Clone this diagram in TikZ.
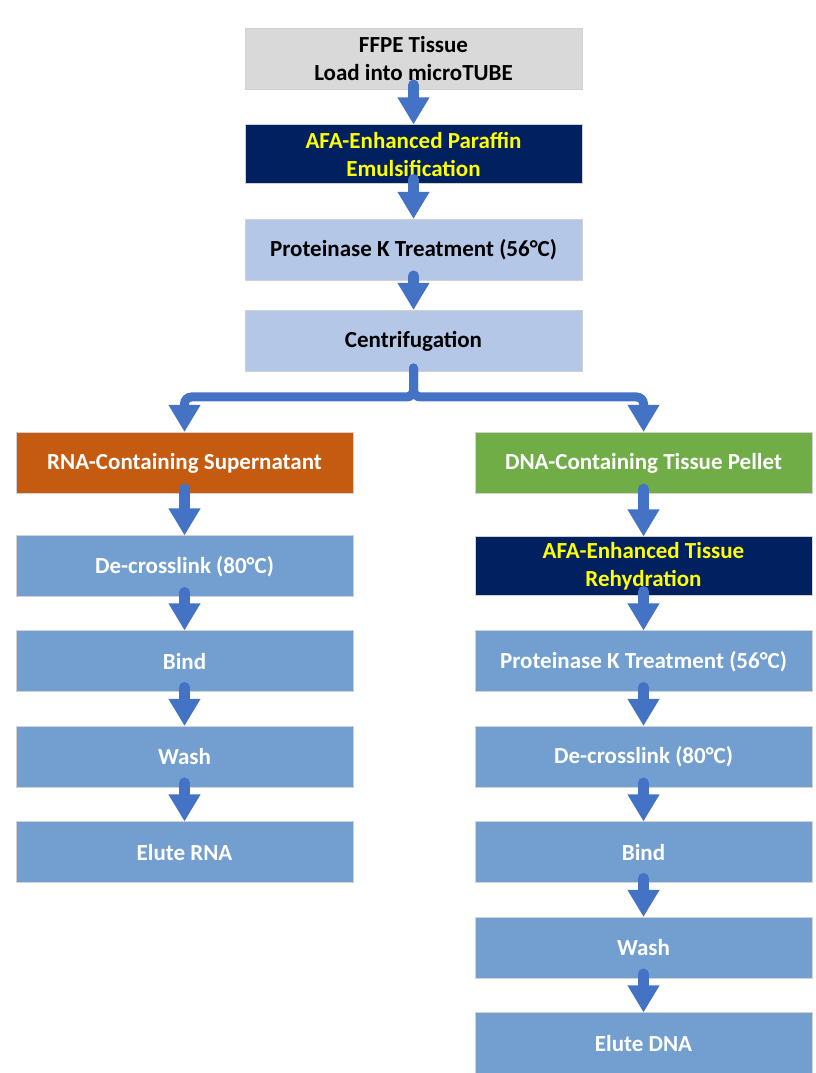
\documentclass[tikz,border=0pt]{standalone}
\usepackage{fontspec}
\setmainfont{Carlito}
\usetikzlibrary{arrows.meta}
\definecolor{boxgray}{HTML}{D9D9D9}
\definecolor{navy}{HTML}{002060}
\definecolor{ltblue}{HTML}{B4C7E7}
\definecolor{midblue}{HTML}{729FCF}
\definecolor{rnaorange}{HTML}{C55A11}
\definecolor{dnagreen}{HTML}{70AD47}
\definecolor{arrowblue}{HTML}{4472C4}
\definecolor{afayellow}{HTML}{FFFF00}
\tikzset{
  stepbox/.style={draw=black!18, line width=1pt, minimum width=337pt, minimum height=61pt,
    align=center, inner sep=2pt, font=\fontsize{23}{28}\selectfont\bfseries},
  graybox/.style={stepbox, fill=boxgray, text=black},
  navybox/.style={stepbox, fill=navy, text=afayellow, minimum height=59pt},
  lightbox/.style={stepbox, fill=ltblue, text=black},
  bluebox/.style={stepbox, fill=midblue, text=white},
  orangebox/.style={stepbox, fill=rnaorange, text=white},
  greenbox/.style={stepbox, fill=dnagreen, text=white},
  flow/.style={draw=arrowblue, line width=11pt, line cap=round, line join=round,
    shorten <=-5pt, -{Triangle[width=30pt,length=27pt]}},
  branch/.style={draw=arrowblue, line width=9pt, line cap=round, rounded corners=7pt,
    -{Triangle[width=30pt,length=27pt]}}
}
\begin{document}
\begin{tikzpicture}[x=1pt,y=1pt]
\useasboundingbox (0,0) rectangle (815,1073);
% top column
\node[graybox]  (ffpe) at (413.5,1014) {FFPE Tissue\\Load into microTUBE};
\node[navybox]  (afa1) at (413.5,918.5) {AFA-Enhanced Paraffin\\Emulsification};
\node[lightbox] (prot) at (413.5,823) {Proteinase K Treatment (56°C)};
\node[lightbox] (cent) at (413.5,732) {Centrifugation};
% left column
\node[orangebox] (rna)   at (184.5,610)   {RNA-Containing Supernatant};
\node[bluebox]   (ldex)  at (184.5,506.5) {De-crosslink (80°C)};
\node[bluebox]   (lbind) at (184.5,411.5) {Bind};
\node[bluebox]   (lwash) at (184.5,316)   {Wash};
\node[bluebox]   (lelu)  at (184.5,220.5) {Elute RNA};
% right column
\node[greenbox] (dna)   at (643.5,610)   {DNA-Containing Tissue Pellet};
\node[navybox]  (afa2)  at (643.5,506.5) {AFA-Enhanced Tissue\\Rehydration};
\node[bluebox]  (rprot) at (643.5,411.5) {Proteinase K Treatment (56°C)};
\node[bluebox]  (rdex)  at (643.5,316)   {De-crosslink (80°C)};
\node[bluebox]  (rbind) at (643.5,220.5) {Bind};
\node[bluebox]  (rwash) at (643.5,125)   {Wash};
\node[bluebox]  (relu)  at (643.5,29.5)  {Elute DNA};
% arrows
\draw[flow] (ffpe.south) -- (afa1.north);
\draw[flow] (afa1.south) -- (prot.north);
\draw[flow] (prot.south) -- (cent.north);
\coordinate (split) at ([yshift=-25pt]cent.south);
\draw[branch] ([yshift=4pt]cent.south) -- (split) -| (rna.north);
\draw[branch] ([yshift=4pt]cent.south) -- (split) -| (dna.north);
\draw[flow] (rna.south) -- (ldex.north);
\draw[flow] (ldex.south) -- (lbind.north);
\draw[flow] (lbind.south) -- (lwash.north);
\draw[flow] (lwash.south) -- (lelu.north);
\draw[flow] (dna.south) -- (afa2.north);
\draw[flow] (afa2.south) -- (rprot.north);
\draw[flow] (rprot.south) -- (rdex.north);
\draw[flow] (rdex.south) -- (rbind.north);
\draw[flow] (rbind.south) -- (rwash.north);
\draw[flow] (rwash.south) -- (relu.north);
\end{tikzpicture}
\end{document}
